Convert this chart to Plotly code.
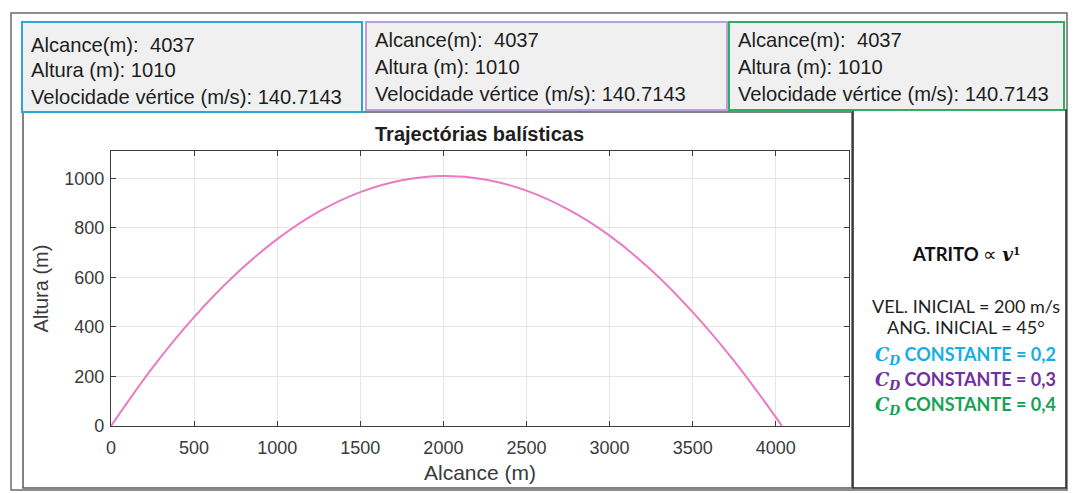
import plotly.graph_objects as go

# Trajectory (metres)
alcance = [0, 250, 500, 750, 1000, 1250, 1500, 1750, 2000, 2250, 2500,
           2750, 3000, 3250, 3500, 3750, 4000, 4037]
altura = [0, 236, 440, 613, 755, 866, 945, 993, 1010, 996, 951,
          875, 769, 630, 460, 262, 36, 0]

# Summary shown in the three info boxes
info_labels = ["Alcance(m):  ", "Altura (m): ", "Velocidade vértice (m/s): "]
info_values = ["4037", "1010", "140.7143"]

# Right-hand panel text
cd_values = ["0,2", "0,3", "0,4"]
cd_colors = ["#14aee6", "#7030a0", "#16a255"]
box_borders = ["#2aa7d6", "#b9a2d9", "#2fae62"]

x_ticks = [0, 500, 1000, 1500, 2000, 2500, 3000, 3500, 4000]
y_ticks = [0, 200, 400, 600, 800, 1000]

FIG_W, FIG_H = 1077, 493
L, R, T, B = 111, 849, 151, 426
PW, PH = R - L, B - T
SANS = "Liberation Sans, Arial"


def px(x):
    return (x - L) / PW


def py(y):
    return (B - y) / PH


fig = go.Figure()
fig.add_trace(go.Scatter(x=alcance, y=altura, mode="lines",
                         line=dict(color="#e97bc4", width=2, shape="spline", smoothing=1),
                         hoverinfo="skip", showlegend=False))

shapes = []


def rect(x0, y0, x1, y1, line_color, width, fill="rgba(0,0,0,0)", layer="below"):
    shapes.append(dict(type="rect", xref="paper", yref="paper",
                       x0=px(x0), x1=px(x1), y0=py(y1), y1=py(y0),
                       line=dict(color=line_color, width=width),
                       fillcolor=fill, layer=layer))


# outer frame and panels
rect(11, 13, 1067, 490, "#6a6a6a", 1.5)
rect(23, 112, 852, 488, "#5a5a5a", 1.5)
rect(853, 110, 1066, 488, "#222222", 1.5)

# info boxes
boxes = [(22, 22, 362, 112), (366, 22, 727, 110), (729, 22, 1064, 110)]
line_y = [[45, 70, 97], [40, 67, 94], [40, 67, 94]]
annotations = []
for (x0, y0, x1, y1), col, ys in zip(boxes, box_borders, line_y):
    rect(x0, y0, x1, y1, col, 2, fill="#f0f0f0")
    for lab, val, yy in zip(info_labels, info_values, ys):
        annotations.append(dict(
            text=lab + val, xref="paper", yref="paper",
            x=px(x0 + 7), y=py(yy), xanchor="left", yanchor="middle",
            showarrow=False,
            font=dict(family=SANS, size=20.2, color="#1e1e1e")))

# title
annotations.append(dict(text="<b>Trajectórias balísticas</b>", xref="paper", yref="paper",
                        x=px(479), y=py(134), xanchor="center", yanchor="middle",
                        showarrow=False,
                        font=dict(family=SANS, size=20, color="#1e1e1e")))

# right panel
panel_font = "Lato, Noto Sans, sans-serif"
serif = "DejaVu Serif"
annotations.append(dict(
    text=("<b>ATRITO</b> ∝ <span style='font-family:" + serif + "'><b><i>v</i></b>"
          "<span style='font-size:15px'><sup><b>1</b></sup></span></span>"),
    xref="paper", yref="paper", x=px(966), y=py(254), xanchor="center", yanchor="middle",
    showarrow=False, font=dict(family=panel_font, size=18.5, color="#111111")))
for txt, yy in [("VEL. INICIAL = 200 m/s", 306), ("ANG. INICIAL = 45°", 327)]:
    annotations.append(dict(text=txt, xref="paper", yref="paper", x=px(966), y=py(yy),
                            xanchor="center", yanchor="middle", showarrow=False,
                            font=dict(family=panel_font, size=18, color="#1e1e1e")))
for val, col, yy in zip(cd_values, cd_colors, [355, 380, 405]):
    annotations.append(dict(
        text=("<b><span style='font-family:" + serif + "'><i>C</i><sub><i>D</i></sub></span>"
              " CONSTANTE = " + val + "</b>"),
        xref="paper", yref="paper", x=px(966), y=py(yy), xanchor="center", yanchor="middle",
        showarrow=False, font=dict(family=panel_font, size=18, color=col)))

axis_common = dict(showline=True, linecolor="#3c3c3c", linewidth=1.2, mirror="ticks",
                   ticks="inside", ticklen=5, tickcolor="#3c3c3c", showgrid=True,
                   gridcolor="#e6e6e6", gridwidth=1, zeroline=False,
                   tickfont=dict(family=SANS, size=18, color="#3a3a3a"))

fig.update_layout(
    width=FIG_W, height=FIG_H,
    margin=dict(l=L, r=FIG_W - R, t=T, b=FIG_H - B, pad=0),
    paper_bgcolor="white", plot_bgcolor="white",
    shapes=shapes, annotations=annotations,
    xaxis=dict(range=[0, 4440.7], tickvals=x_ticks, ticklabelstandoff=5,
               title=dict(text="Alcance (m)", standoff=8,
                          font=dict(family=SANS, size=21, color="#3a3a3a")),
               **axis_common),
    yaxis=dict(range=[0, 1111], tickvals=y_ticks, ticklabelstandoff=2,
               title=dict(text="Altura (m)", standoff=10,
                          font=dict(family=SANS, size=20, color="#3a3a3a")),
               **axis_common),
)

fig.write_html("out.html")
